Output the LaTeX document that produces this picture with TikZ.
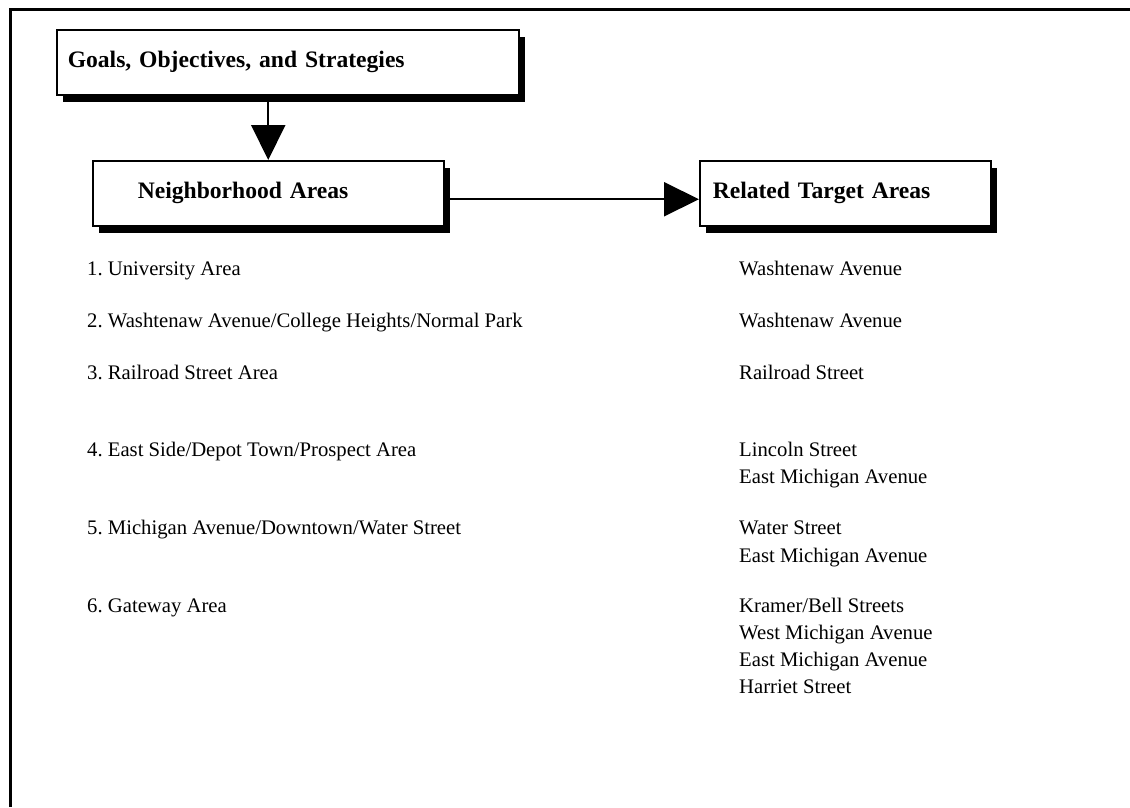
\documentclass[tikz,border=0pt]{standalone}
\usepackage{fontspec}
\setmainfont{Liberation Serif}
\usetikzlibrary{arrows.meta,shadows}
\frenchspacing

\begin{document}
\begin{tikzpicture}[
        x=1pt, y=-1pt,                % coordinates in page pixels
        box/.style={
            draw, fill=white,
            line width=1.5pt,
            anchor=north west,
            minimum height=65pt,
            align=left,
            font=\fontsize{23.6}{28}\selectfont\bfseries,
            general shadow={fill=black, shadow xshift=6pt, shadow yshift=-7pt}
        },
        item/.style={anchor=base west, inner sep=0pt, font=\fontsize{20.7}{27}\selectfont},
        arrow/.style={-{Triangle[length=35pt,width=34pt]}, line width=2pt}
    ]
        \useasboundingbox (0,0) rectangle (1130,807);
        % frame
        \draw[line width=3pt] (10.5,807) -- (10.5,9.5) -- (1130,9.5);

        % boxes
        \node (goals) [box, inner xsep=11pt, text width=440pt] at (56,29) {Goals, Objectives, and Strategies};
        \node (nbh) [box, inner xsep=45pt, text width=261pt] at (92,160) {Neighborhood Areas};
        \node (rel) [box, inner xsep=13pt, text width=265pt] at (699,160) {Related Target Areas};

        % arrows
        \draw[arrow] (goals.south -| nbh.north) -- (nbh.north);
        \draw[arrow] ([yshift=-6pt]nbh.east) -- ([yshift=-6pt]rel.west);

        % neighborhood areas
        \node (n1) [item] at (87,275) {1. University Area};
        \node (n2) [item] at (87,327) {2. Washtenaw Avenue/College Heights/Normal Park};
        \node (n3) [item] at (87,379) {3. Railroad Street Area};
        \node (n4) [item] at (87,456) {4. East Side/Depot Town/Prospect Area};
        \node (n5) [item] at (87,534) {5. Michigan Avenue/Downtown/Water Street};
        \node (n6) [item] at (87,612) {6. Gateway Area};

        % target areas
        \node (t1) [item] at (739,275) {Washtenaw Avenue};
        \node (t2) [item] at (739,327) {Washtenaw Avenue};
        \node (t3) [item] at (739,379) {Railroad Street};
        \node (t4a) [item] at (739,456) {Lincoln Street};
        \node (t4b) [item] at (739,483) {East Michigan Avenue};
        \node (t5a) [item] at (739,534) {Water Street};
        \node (t5b) [item] at (739,562) {East Michigan Avenue};
        \node (t6a) [item] at (739,612) {Kramer/Bell Streets};
        \node (t6b) [item] at (739,639) {West Michigan Avenue};
        \node (t6c) [item] at (739,666) {East Michigan Avenue};
        \node (t6d) [item] at (739,693) {Harriet Street};
    \end{tikzpicture}
\end{document}
